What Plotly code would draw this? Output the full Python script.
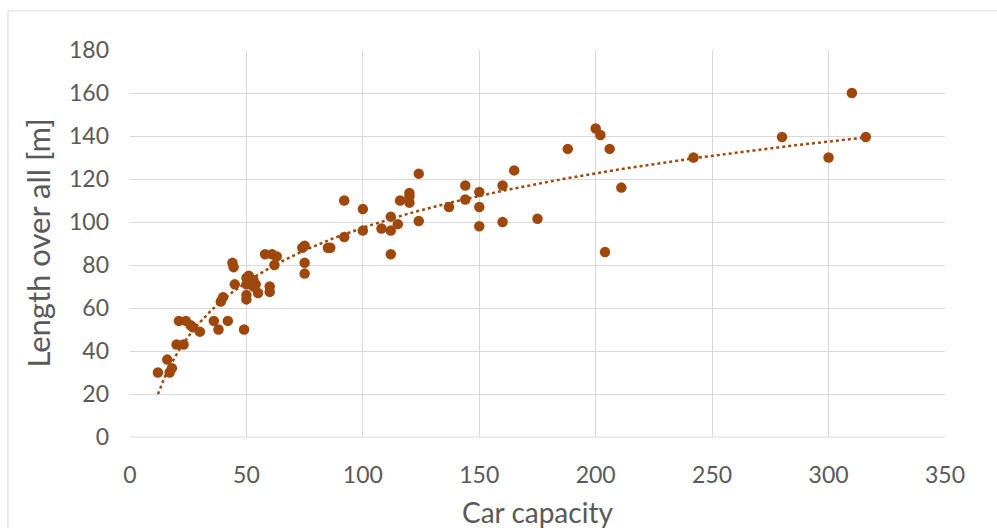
import numpy as np
import plotly.graph_objects as go

# Car capacity vs. length over all
car_capacity = [12, 16, 17, 18, 20, 21, 23, 24, 26, 27, 30, 36, 38, 39, 40, 42,
                44, 44.5, 45, 49, 50, 50, 50, 50, 51, 52, 53, 53, 54, 55, 58, 60,
                60, 61, 62, 63, 74, 75, 75, 75, 85, 86, 92, 92, 100, 100, 108, 112,
                112, 112, 115, 116, 120, 120, 120, 124, 124, 137, 144, 144, 150, 150,
                150, 160, 160, 165, 175, 188, 200, 202, 204, 206, 211, 242, 280, 300,
                310, 316]
length_overall = [30, 36, 30, 32, 43, 54, 43, 54, 52, 51, 49, 54, 50, 63, 65, 54,
                  81, 79, 71, 50, 74, 71, 66, 64, 75, 72, 70, 73, 71, 67, 85, 70,
                  67.5, 85, 80, 84, 88, 89, 81, 76, 88, 88, 110, 93, 106, 96, 97, 102.5,
                  96, 85, 99, 110, 113.5, 112, 109, 122.5, 100.5, 107, 117, 110.5, 114, 107,
                  98, 117, 100, 124, 101.5, 134, 143.5, 140.5, 86, 134, 116, 130, 139.5, 130,
                  160, 139.5]

x_ticks = [0, 50, 100, 150, 200, 250, 300, 350]
y_ticks = [0, 20, 40, 60, 80, 100, 120, 140, 160, 180]

MARK = "#9E480E"
GRID = "#D9D9D9"
TEXT = "#595959"
FONT = "Lato"

# Logarithmic trend line fitted to the data
xs = np.array(car_capacity, dtype=float)
ys = np.array(length_overall, dtype=float)
a, b = np.polyfit(np.log(xs), ys, 1)
tx = np.linspace(xs.min(), xs.max(), 200)
ty = a * np.log(tx) + b

fig = go.Figure()
fig.add_trace(go.Scatter(
    x=tx, y=ty, mode="lines",
    line=dict(color=MARK, width=2.5, dash="dot"),
    hoverinfo="skip", showlegend=False,
))
fig.add_trace(go.Scatter(
    x=car_capacity, y=length_overall, mode="markers",
    marker=dict(color=MARK, size=10.5, line=dict(width=0)),
    showlegend=False,
))

axis_common = dict(
    showgrid=True, gridcolor=GRID, gridwidth=1,
    zeroline=False, showline=False, ticks="",
    tickfont=dict(family=FONT, size=23, color=TEXT),
)

fig.update_xaxes(range=[0, 350], tickvals=x_ticks, ticklabelstandoff=22, **axis_common)
fig.update_yaxes(range=[0, 180], tickvals=y_ticks, ticklabelstandoff=20, **axis_common)

fig.update_layout(
    width=997, height=528,
    margin=dict(l=130, r=52, t=50, b=91),
    paper_bgcolor="white", plot_bgcolor="white",
    shapes=[
        # outer chart border
        dict(type="rect", xref="paper", yref="paper",
             x0=-0.1497, x1=1.2, y0=-0.4, y1=1.1008,
             line=dict(color=GRID, width=1), layer="below"),
        # horizontal axis line
        dict(type="line", xref="paper", yref="paper", x0=0, x1=1, y0=0, y1=0,
             line=dict(color=GRID, width=1)),
    ],
    annotations=[
        dict(text="Car capacity", xref="paper", yref="paper", x=0.5, y=-0.195,
             xanchor="center", yanchor="middle", showarrow=False,
             font=dict(family=FONT, size=28, color=TEXT)),
        dict(text="Length over all [m]", xref="paper", yref="paper", x=-0.114, y=0.5,
             xanchor="center", yanchor="middle", showarrow=False, textangle=-90,
             font=dict(family=FONT, size=31, color=TEXT)),
    ],
)

fig.write_html("out.html")
